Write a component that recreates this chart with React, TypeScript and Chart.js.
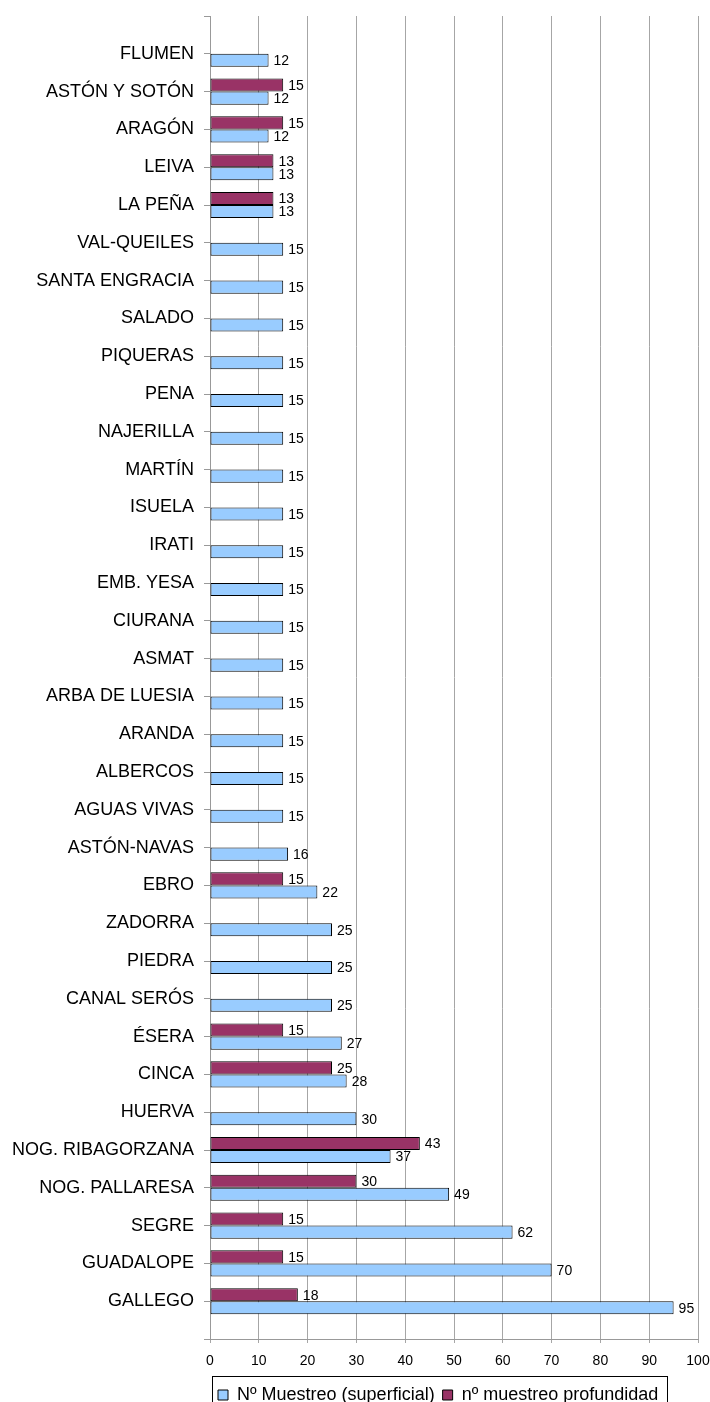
import { useEffect, useRef } from 'react';
import { Chart, registerables } from 'chart.js';

Chart.register(...registerables);

const categories = [
  'FLUMEN', 'ASTÓN Y SOTÓN', 'ARAGÓN', 'LEIVA', 'LA PEÑA', 'VAL-QUEILES', 'SANTA ENGRACIA',
  'SALADO', 'PIQUERAS', 'PENA', 'NAJERILLA', 'MARTÍN', 'ISUELA', 'IRATI', 'EMB. YESA',
  'CIURANA', 'ASMAT', 'ARBA DE LUESIA', 'ARANDA', 'ALBERCOS', 'AGUAS VIVAS', 'ASTÓN-NAVAS',
  'EBRO', 'ZADORRA', 'PIEDRA', 'CANAL SERÓS', 'ÉSERA', 'CINCA', 'HUERVA', 'NOG. RIBAGORZANA',
  'NOG. PALLARESA', 'SEGRE', 'GUADALOPE', 'GALLEGO',
];

const superficial = [
  12, 12, 12, 13, 13, 15, 15, 15, 15, 15, 15, 15, 15, 15, 15, 15, 15, 15, 15, 15, 15, 16,
  22, 25, 25, 25, 27, 28, 30, 37, 49, 62, 70, 95,
];

const profundidad = [
  null, 15, 15, 13, 13, null, null, null, null, null, null, null, null, null, null, null, null,
  null, null, null, null, null, 15, null, null, null, 15, 25, null, 43, 30, 15, 15, 18,
];

const seriesLabels = ['Nº Muestreo (superficial)', 'nº muestreo profundidad'];
const xMin = 0;
const xMax = 100;
const xStep = 10;

const FONT = '"Liberation Sans", Arial, Helvetica, sans-serif';

export default function App() {
  const ref = useRef<HTMLCanvasElement>(null);

  useEffect(() => {
    if (!ref.current) return;
    Chart.defaults.font.family = FONT;
    Chart.defaults.color = '#000';

    const toPoints = (arr: (number | null)[]) => arr.map((v, i) => ({ x: v, y: i }));

    const valueLabels = {
      id: 'valueLabels',
      afterDatasetsDraw(chart: any) {
        const c = chart.ctx;
        c.save();
        c.font = `14px ${FONT}`;
        c.fillStyle = '#000';
        c.textAlign = 'left';
        c.textBaseline = 'middle';
        chart.data.datasets.forEach((ds: any, di: number) => {
          const meta = chart.getDatasetMeta(di);
          meta.data.forEach((el: any, i: number) => {
            const v = ds.data[i].x;
            if (v == null) return;
            c.fillText(String(v), el.x + 5, el.y + 1);
          });
        });
        c.restore();
      },
    };

    const legendBorder = {
      id: 'legendBorder',
      afterDraw(chart: any) {
        const lg = chart.legend;
        if (!lg || !lg.legendHitBoxes || !lg.legendHitBoxes.length) return;
        const hb = lg.legendHitBoxes;
        let left = Infinity;
        let right = -Infinity;
        hb.forEach((h: any) => {
          left = Math.min(left, h.left);
          right = Math.max(right, h.left + h.width);
        });
        const x0 = Math.round(left - 6) + 0.5;
        const x1 = Math.round(right + 9) + 0.5;
        const y0 = Math.round(hb[0].top - 10) + 0.5;
        const y1 = Math.round(hb[0].top + hb[0].height + 12) + 0.5;
        const c = chart.ctx;
        c.save();
        c.strokeStyle = '#000';
        c.lineWidth = 1;
        c.strokeRect(x0, y0, x1 - x0, y1 - y0);
        c.restore();
      },
    };

    const chart = new Chart(ref.current, {
      type: 'bar',
      data: {
        datasets: [
          {
            label: seriesLabels[1],
            data: toPoints(profundidad) as any,
            backgroundColor: '#993366',
            borderColor: '#000',
            borderWidth: 1,
            borderSkipped: false,
          },
          {
            label: seriesLabels[0],
            data: toPoints(superficial) as any,
            backgroundColor: '#99CCFF',
            borderColor: '#000',
            borderWidth: 1,
            borderSkipped: false,
          },
        ],
      },
      options: {
        indexAxis: 'y',
        animation: false,
        responsive: false,
        categoryPercentage: 0.69,
        barPercentage: 1,
        layout: { padding: { top: 16, right: 12, left: 0, bottom: 0 } },
        scales: {
          x: {
            type: 'linear',
            min: xMin,
            max: xMax,
            afterFit: (s: any) => {
              s.height = 39;
              s.paddingRight = 0;
              s.paddingLeft = 0;
            },
            ticks: { stepSize: xStep, font: { size: 14 }, color: '#000', padding: 10 },
            grid: { color: '#a6a6a6', tickLength: 4 },
            border: { color: '#999' },
          },
          y: {
            type: 'linear',
            reverse: true,
            offset: false,
            min: -1,
            max: categories.length,
            afterFit: (s: any) => {
              s.width = 210;
              s.paddingTop = 0;
              s.paddingBottom = 0;
            },
            ticks: {
              stepSize: 1,
              autoSkip: false,
              maxTicksLimit: 200,
              font: { size: 18 },
              color: '#000',
              padding: 10,
              callback: (v: any) => categories[v as number] ?? '',
            },
            grid: { drawOnChartArea: false, offset: false, tickLength: 6, color: '#999' },
            border: { color: '#999' },
          },
        },
        plugins: {
          legend: {
            position: 'bottom',
            align: 'start',
            fullSize: false,
            reverse: true,
            labels: {
              boxWidth: 10,
              boxHeight: 10,
              padding: 8,
              font: { size: 18 },
              color: '#000',
            },
          },
          tooltip: { enabled: false },
        },
      } as any,
      plugins: [valueLabels, legendBorder],
    });

    return () => chart.destroy();
  }, []);

  return (
    <div style={{ position: 'absolute', left: 0, top: 0, width: 710, height: 1402, overflow: 'hidden' }}>
      <canvas ref={ref} width={710} height={1414} style={{ display: 'block' }} />
    </div>
  );
}
